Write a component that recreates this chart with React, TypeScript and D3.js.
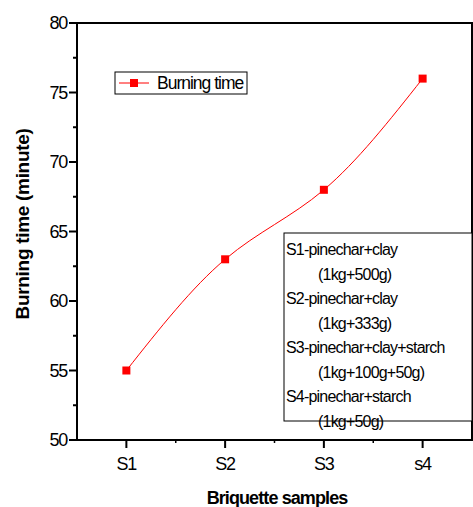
import * as d3 from "d3";

const samples = ["S1", "S2", "S3", "s4"];
const burningTime = [55, 63, 68, 76];
const yTicks = [50, 55, 60, 65, 70, 75, 80];
const noteLines = [
  "S1-pinechar+clay",
  "(1kg+500g)",
  "S2-pinechar+clay",
  "(1kg+333g)",
  "S3-pinechar+clay+starch",
  "(1kg+100g+50g)",
  "S4-pinechar+starch",
  "(1kg+50g)",
];

export default function App() {
  const width = 473;
  const height = 507;
  const marginLeft = 77;
  const marginRight = 1;
  const marginTop = 23;
  const marginBottom = 67;

  const font = "'Liberation Sans', Arial, sans-serif";

  const xScale = d3
    .scaleLinear()
    .domain([0.5, samples.length + 0.5])
    .range([marginLeft, width - marginRight]);

  const yScale = d3
    .scaleLinear()
    .domain([50, 80])
    .range([height - marginBottom, marginTop]);

  const points: [number, number][] = burningTime.map((v, i) => [xScale(i + 1), yScale(v)]);
  const line = d3.line().curve(d3.curveNatural)(points) || "";

  const minorY = d3.range(52.5, 80, 5);
  const minorX = d3.range(1.5, samples.length, 1);

  const x0 = xScale.range()[0];
  const x1 = xScale.range()[1];
  const y0 = yScale.range()[0];
  const y1 = yScale.range()[1];

  return (
    <svg width={width} height={height} style={{ position: "absolute", left: 0, top: 0 }}>
      <rect width={width} height={height} fill="white" />

      {/* curve + markers */}
      <path d={line} fill="none" stroke="#ff0000" strokeWidth={1} />
      {points.map(([px, py], i) => (
        <rect key={i} x={px - 4} y={py - 4} width={8} height={8} fill="#ff0000" />
      ))}

      {/* frame */}
      <rect x={x0} y={y1} width={x1 - x0} height={y0 - y1} fill="none" stroke="black" strokeWidth={2} />

      {/* y ticks */}
      {yTicks.map((t) => (
        <g key={t}>
          <line x1={x0 - 8} x2={x0} y1={yScale(t)} y2={yScale(t)} stroke="black" strokeWidth={2} />
          <text
            x={x0 - 10}
            y={yScale(t)}
            dy="0.36em"
            textAnchor="end"
            fontFamily={font}
            fontSize={18}
            letterSpacing={-1.2}
          >
            {t}
          </text>
        </g>
      ))}
      {minorY.map((t) => (
        <line key={t} x1={x0 - 4} x2={x0} y1={yScale(t)} y2={yScale(t)} stroke="black" strokeWidth={2} />
      ))}

      {/* x ticks */}
      {samples.map((s, i) => (
        <g key={s}>
          <line x1={xScale(i + 1)} x2={xScale(i + 1)} y1={y0} y2={y0 + 8} stroke="black" strokeWidth={2} />
          <text
            x={xScale(i + 1)}
            y={y0 + 30}
            textAnchor="middle"
            fontFamily={font}
            fontSize={18}
            letterSpacing={-1.2}
          >
            {s}
          </text>
        </g>
      ))}
      {minorX.map((t) => (
        <line key={t} x1={xScale(t)} x2={xScale(t)} y1={y0} y2={y0 + 3} stroke="black" strokeWidth={1.5} />
      ))}

      {/* axis titles */}
      <text
        transform={`translate(29,224) rotate(-90)`}
        textAnchor="middle"
        fontFamily={font}
        fontSize={19}
        fontWeight="bold"
        letterSpacing={-0.3}
      >
        Burning time (minute)
      </text>
      <text
        x={277}
        y={504}
        textAnchor="middle"
        fontFamily={font}
        fontSize={18}
        fontWeight="bold"
        letterSpacing={-0.9}
      >
        Briquette samples
      </text>

      {/* legend */}
      <g transform="translate(115,72)">
        <rect x={0} y={0} width={132} height={22} fill="white" stroke="black" strokeWidth={1} />
        <line x1={4} x2={34} y1={11} y2={11} stroke="#ff0000" strokeWidth={1} />
        <rect x={15} y={7} width={8} height={8} fill="#ff0000" />
        <text x={42} y={17} fontFamily={font} fontSize={17.5} letterSpacing={-1}>
          Burning time
        </text>
      </g>

      {/* notes box */}
      <g transform="translate(284,233)">
        <rect x={0} y={0} width={188} height={188} fill="white" stroke="black" strokeWidth={1} />
        {noteLines.map((l, i) => (
          <text
            key={i}
            x={i % 2 === 0 ? 2 : 34}
            y={22 + i * 24.5}
            fontFamily={font}
            fontSize={16}
            letterSpacing={-0.8}
          >
            {l}
          </text>
        ))}
      </g>
    </svg>
  );
}
